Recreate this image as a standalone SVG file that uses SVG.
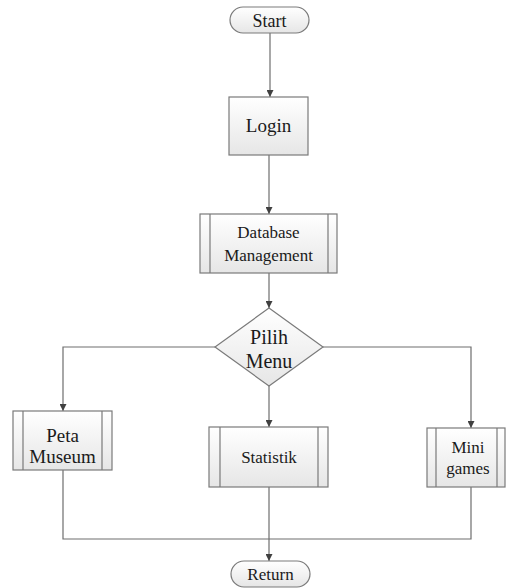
<svg xmlns="http://www.w3.org/2000/svg" width="510" height="588" viewBox="0 0 510 588" font-family="Liberation Serif">
<defs>
<linearGradient id="g" x1="0" y1="0" x2="0" y2="1">
<stop offset="0" stop-color="#ffffff"/>
<stop offset="1" stop-color="#e6e6e6"/>
</linearGradient>
<marker id="arr" viewBox="0 0 10 10" refX="10" refY="5" markerWidth="7" markerHeight="7" markerUnits="userSpaceOnUse" orient="auto">
<path d="M0,0 L10,5 L0,10 z" fill="#404040"/>
</marker>
</defs>
<style>
.s{fill:url(#g);stroke:#7a7a7a;stroke-width:1.2}
.l{fill:none;stroke:#7a7a7a;stroke-width:1.2}
.c{fill:none;stroke:#6e6e6e;stroke-width:1.2}
.t{fill:#1a1a1a;text-anchor:middle}
</style>
<rect width="510" height="588" fill="#ffffff"/>
<g id="connectors">
<path class="c" d="M270,33 V97" marker-end="url(#arr)"/>
<path class="c" d="M269,155 V214" marker-end="url(#arr)"/>
<path class="c" d="M269,273 V308" marker-end="url(#arr)"/>
<path class="c" d="M215,347 H63 V411" marker-end="url(#arr)"/>
<path class="c" d="M323,347 H471 V428" marker-end="url(#arr)"/>
<path class="c" d="M269,386 V427" marker-end="url(#arr)"/>
<path class="c" d="M63,470 V539 H471 V487"/>
<path class="c" d="M269,487 V561" marker-end="url(#arr)"/>
</g>
<g id="start">
<rect class="s" x="230" y="7" width="79" height="26" rx="13"/>
<text class="t" x="269.5" y="26.5" font-size="18" font-family="Liberation Serif">Start</text>
</g>
<g id="login">
<rect class="s" x="229" y="97" width="79" height="58"/>
<text class="t" x="268.5" y="132" font-size="19" font-family="Liberation Serif">Login</text>
</g>
<g id="database">
<rect class="s" x="200" y="214" width="137" height="59"/>
<path class="l" d="M210,214 V273 M328,214 V273"/>
<text class="t" x="268.5" y="238" font-size="17" font-family="Liberation Serif">Database</text>
<text class="t" x="268.5" y="261" font-size="17" font-family="Liberation Serif">Management</text>
</g>
<g id="pilih">
<path class="s" d="M269,308 L323,347 L269,386 L215,347 z"/>
<text class="t" x="269" y="344" font-size="20" font-family="Liberation Serif">Pilih</text>
<text class="t" x="269" y="368" font-size="20" font-family="Liberation Serif">Menu</text>
</g>
<g id="peta">
<rect class="s" x="13" y="411" width="99" height="59"/>
<path class="l" d="M23,411 V470 M102,411 V470"/>
<text class="t" x="62.5" y="442" font-size="19" font-family="Liberation Serif">Peta</text>
<text class="t" x="62.5" y="463" font-size="19" font-family="Liberation Serif">Museum</text>
</g>
<g id="statistik">
<rect class="s" x="209" y="427" width="119" height="60"/>
<path class="l" d="M220,427 V487 M318,427 V487"/>
<text class="t" x="269" y="463" font-size="17" font-family="Liberation Serif">Statistik</text>
</g>
<g id="mini">
<rect class="s" x="427" y="428" width="78" height="59"/>
<path class="l" d="M436,428 V487 M497,428 V487"/>
<text class="t" x="468" y="453" font-size="17" font-family="Liberation Serif">Mini</text>
<text class="t" x="468" y="474" font-size="17" font-family="Liberation Serif">games</text>
</g>
<g id="return">
<rect class="s" x="231" y="561" width="79" height="26" rx="13"/>
<text class="t" x="270.5" y="579.5" font-size="17" font-family="Liberation Serif">Return</text>
</g>
</svg>
